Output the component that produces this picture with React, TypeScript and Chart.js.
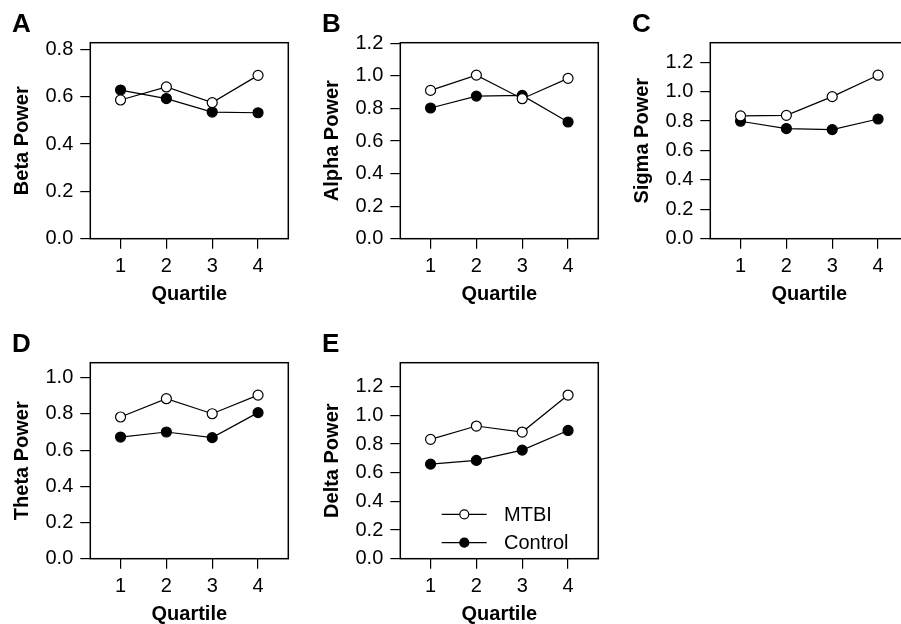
import { useEffect, useRef } from "react";
import { Chart, registerables } from "chart.js";

Chart.register(...registerables);

// ---------- data ----------
const quartiles = [1, 2, 3, 4];
const xTickValues = [1, 2, 3, 4];
const seriesLabels = ["MTBI", "Control"];
const xTitle = "Quartile";

const betaMTBI = [0.586, 0.641, 0.575, 0.69];
const betaControl = [0.628, 0.592, 0.535, 0.532];
const alphaMTBI = [0.911, 1.005, 0.86, 0.985];
const alphaControl = [0.803, 0.876, 0.88, 0.717];
const sigmaMTBI = [0.835, 0.839, 0.966, 1.112];
const sigmaControl = [0.799, 0.749, 0.742, 0.814];
const thetaMTBI = [0.783, 0.884, 0.801, 0.904];
const thetaControl = [0.672, 0.7, 0.669, 0.807];
const deltaMTBI = [0.833, 0.926, 0.884, 1.142];
const deltaControl = [0.66, 0.686, 0.758, 0.895];

const ticks08 = [0, 0.2, 0.4, 0.6, 0.8];
const ticks10 = [0, 0.2, 0.4, 0.6, 0.8, 1.0];
const ticks12 = [0, 0.2, 0.4, 0.6, 0.8, 1.0, 1.2];

const panelLetters = ["A", "B", "C", "D", "E"];
const yTitles = ["Beta Power", "Alpha Power", "Sigma Power", "Theta Power", "Delta Power"];
const yMaxes = [0.828, 1.204, 1.333, 1.083, 1.368];
const xMin = 0.34;
const xMax = 4.66;

const FONT = "'Liberation Sans', Arial, Helvetica, sans-serif";

// ---------- plugins ----------
const boxPlugin = {
  id: "plotBox",
  afterDraw(chart: any) {
    const { ctx, chartArea } = chart;
    ctx.save();
    ctx.strokeStyle = "#000";
    ctx.lineWidth = 1.5;
    ctx.strokeRect(
      chartArea.left,
      chartArea.top,
      chartArea.right - chartArea.left,
      chartArea.bottom - chartArea.top
    );
    ctx.restore();
  },
};

const insetLegendPlugin = {
  id: "insetLegend",
  afterDraw(chart: any, _args: any, opts: any) {
    if (!opts || !opts.display) return;
    const { ctx, chartArea } = chart;
    ctx.save();
    chart.data.datasets.forEach((ds: any, i: number) => {
      const y = chartArea.bottom - 44.4 + i * 28.4;
      const x0 = chartArea.left + 41.4;
      const x1 = chartArea.left + 86.4;
      const xm = chartArea.left + 64;
      ctx.strokeStyle = ds.borderColor;
      ctx.lineWidth = ds.borderWidth;
      ctx.beginPath();
      ctx.moveTo(x0, y);
      ctx.lineTo(x1, y);
      ctx.stroke();
      ctx.beginPath();
      ctx.arc(xm, y, 4.5, 0, Math.PI * 2);
      ctx.fillStyle = ds.pointBackgroundColor;
      ctx.fill();
      ctx.lineWidth = ds.pointBorderWidth;
      ctx.strokeStyle = ds.pointBorderColor;
      ctx.stroke();
      ctx.fillStyle = "#000";
      ctx.font = `20px ${FONT}`;
      ctx.textAlign = "left";
      ctx.textBaseline = "middle";
      ctx.fillText(ds.label, chartArea.left + 103.7, y + 1);
    });
    ctx.restore();
  },
};

type PanelProps = {
  letter: string;
  yTitle: string;
  mtbi: number[];
  control: number[];
  yTicks: number[];
  yMax: number;
  showLegend: boolean;
  left: number;
  top: number;
};

function Panel(p: PanelProps) {
  const ref = useRef<HTMLCanvasElement | null>(null);
  useEffect(() => {
    if (!ref.current) return;
    const mk = (vals: number[]) => quartiles.map((q, i) => ({ x: q, y: vals[i] }));
    const grid = {
      display: true,
      drawOnChartArea: false,
      drawTicks: true,
      tickLength: 10,
      color: "#000",
      lineWidth: 1.2,
    };
    const chart = new Chart(ref.current, {
      type: "line",
      data: {
        datasets: [
          {
            label: seriesLabels[0],
            data: mk(p.mtbi),
            borderColor: "#000",
            borderWidth: 1.2,
            pointRadius: 5,
            pointBackgroundColor: "#fff",
            pointBorderColor: "#000",
            pointBorderWidth: 1.2,
            fill: false,
            tension: 0,
          },
          {
            label: seriesLabels[1],
            data: mk(p.control),
            borderColor: "#000",
            borderWidth: 1.2,
            pointRadius: 5,
            pointBackgroundColor: "#000",
            pointBorderColor: "#000",
            pointBorderWidth: 1.2,
            fill: false,
            tension: 0,
          },
        ],
      },
      options: {
        animation: false,
        responsive: false,
        maintainAspectRatio: false,
        devicePixelRatio: 1,
        events: [],
        layout: { padding: { left: 12, right: 21.7, top: 0, bottom: 0 } },
        plugins: {
          legend: { display: false },
          tooltip: { enabled: false },
          title: {
            display: true,
            text: p.letter,
            align: "start",
            color: "#000",
            font: { family: FONT, size: 26, weight: "bold", lineHeight: 1 },
            padding: { top: 12, bottom: 4.7 },
          },
          insetLegend: { display: p.showLegend },
        } as any,
        scales: {
          x: {
            type: "linear",
            min: xMin,
            max: xMax,
            afterBuildTicks: (s: any) => {
              s.ticks = xTickValues.map((v) => ({ value: v }));
            },
            afterFit: (s: any) => {
              s.height = 81.3;
            },
            grid,
            border: { display: false },
            ticks: {
              color: "#000",
              font: { family: FONT, size: 20 },
              padding: 6,
              maxRotation: 0,
              autoSkip: false,
              callback: (v: any) => String(v),
            },
            title: {
              display: true,
              text: xTitle,
              color: "#000",
              font: { family: FONT, size: 20, weight: "bold", lineHeight: 1 },
              padding: { top: 0, bottom: 16 },
            },
          },
          y: {
            type: "linear",
            min: 0,
            max: p.yMax,
            afterBuildTicks: (s: any) => {
              s.ticks = p.yTicks.map((v) => ({ value: v }));
            },
            afterFit: (s: any) => {
              s.width = 78.3;
            },
            grid,
            border: { display: false },
            ticks: {
              color: "#000",
              font: { family: FONT, size: 20 },
              padding: 7,
              autoSkip: false,
              callback: (v: any) => Number(v).toFixed(1),
            },
            title: {
              display: true,
              text: p.yTitle,
              color: "#000",
              font: { family: FONT, size: 20, weight: "bold", lineHeight: 1 },
              padding: { top: 0, bottom: 0 },
            },
          },
        },
      } as any,
      plugins: [boxPlugin, insetLegendPlugin],
    });
    return () => chart.destroy();
  }, []);
  return (
    <canvas
      ref={ref}
      width={310}
      height={320}
      style={{ position: "absolute", left: p.left, top: p.top, width: 310, height: 320 }}
    />
  );
}

export default function App() {
  const panels = [
    { mtbi: betaMTBI, control: betaControl, yTicks: ticks08 },
    { mtbi: alphaMTBI, control: alphaControl, yTicks: ticks12 },
    { mtbi: sigmaMTBI, control: sigmaControl, yTicks: ticks12 },
    { mtbi: thetaMTBI, control: thetaControl, yTicks: ticks10 },
    { mtbi: deltaMTBI, control: deltaControl, yTicks: ticks12 },
  ];
  const lefts = [0, 310, 620, 0, 310];
  const tops = [0, 0, 0, 320, 320];
  return (
    <div
      style={{
        position: "fixed",
        left: 0,
        top: 0,
        width: 901,
        height: 624,
        overflow: "hidden",
        background: "#fff",
      }}
    >
      {panels.map((d, i) => (
        <Panel
          key={i}
          letter={panelLetters[i]}
          yTitle={yTitles[i]}
          mtbi={d.mtbi}
          control={d.control}
          yTicks={d.yTicks}
          yMax={yMaxes[i]}
          showLegend={i === 4}
          left={lefts[i]}
          top={tops[i]}
        />
      ))}
    </div>
  );
}
